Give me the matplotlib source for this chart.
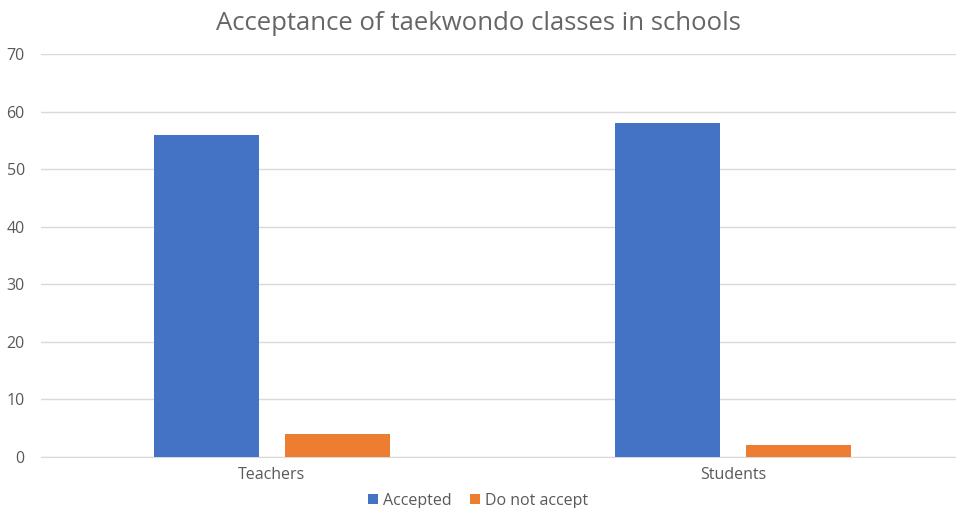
import matplotlib
matplotlib.use("Agg")
import matplotlib.pyplot as plt
import numpy as np

plt.rcParams["font.family"] = ["Open Sans", "DejaVu Sans"]

# data
groups = ["Teachers", "Students"]
accepted = [56, 58]
not_accept = [4, 2]
series_names = ["Accepted", "Do not accept"]
yticks = [0, 10, 20, 30, 40, 50, 60, 70]

BLUE = "#4472C4"
ORANGE = "#ED7D31"
GREY = "#595959"

fig = plt.figure(figsize=(9.56, 5.08), dpi=100)
# right edge of the plot area runs a little past the image (cropped original)
ax = fig.add_axes([0.0434, 0.1004, 0.9644, 0.7933])

x = np.arange(len(groups))
w = 0.226
off = 0.142
ax.bar(x - off, accepted, w, color=BLUE, label=series_names[0], zorder=3)
ax.bar(x + off, not_accept, w, color=ORANGE, label=series_names[1], zorder=3)

ax.set_xlim(-0.5, 1.5)
ax.set_ylim(0, 70)
ax.set_yticks(yticks)
ax.set_xticks(x)
ax.set_xticklabels(groups)
ax.tick_params(axis="both", length=0, labelsize=11.5, labelcolor=GREY)
ax.tick_params(axis="x", pad=7)
ax.tick_params(axis="y", pad=12)

ax.grid(axis="y", color="#D9D9D9", linewidth=1, zorder=0)
for s in ["top", "right", "left"]:
    ax.spines[s].set_visible(False)
ax.spines["bottom"].set_color("#D9D9D9")

fig.suptitle("Acceptance of taekwondo classes in schools", y=0.978,
             fontsize=18.5, color="#666666")

fig.legend(loc="lower center", bbox_to_anchor=(0.5, -0.03), ncol=2,
           frameon=False, fontsize=11.5, labelcolor=GREY,
           handlelength=0.6, handleheight=0.6, handletextpad=0.3,
           columnspacing=1.2)

fig.savefig("out.png", dpi=100)
